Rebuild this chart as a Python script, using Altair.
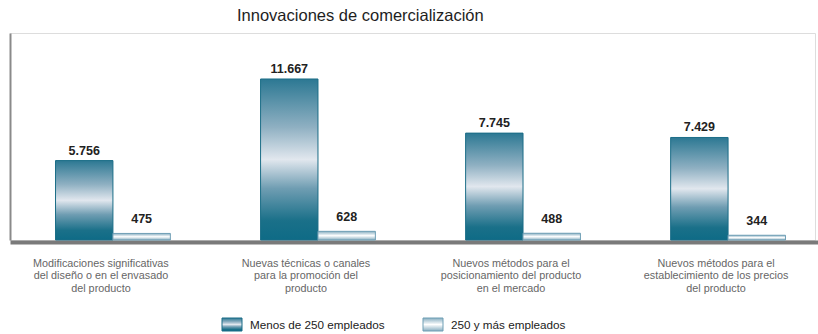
import altair as alt
import pandas as pd

# Categories (use "|" to break axis labels onto several lines)
categorias = [
    "Modificaciones significativas|del diseño o en el envasado|del producto",
    "Nuevas técnicas o canales|para la promoción del|producto",
    "Nuevos métodos para el|posicionamiento del producto|en el mercado",
    "Nuevos métodos para el|establecimiento de los precios|del producto",
]
grupos = ["Menos de 250 empleados", "250 y más empleados"]
menos_250 = [5756, 11667, 7745, 7429]
mas_250 = [475, 628, 488, 344]


def miles(v):
    return f"{v:,}".replace(",", ".")


rows = []
for cat, a, b in zip(categorias, menos_250, mas_250):
    rows.append({"categoria": cat, "grupo": grupos[0], "valor": a, "etiqueta": miles(a)})
    rows.append({"categoria": cat, "grupo": grupos[1], "valor": b, "etiqueta": miles(b)})
df = pd.DataFrame(rows)

FONT = "Liberation Sans"

grad_oscuro = alt.LinearGradient(
    gradient="linear", x1=0, y1=0, x2=0, y2=1,
    stops=[
        alt.GradientStop(color="#2c7893", offset=0),
        alt.GradientStop(color="#8fb0c2", offset=0.3),
        alt.GradientStop(color="#e1e7ee", offset=0.5),
        alt.GradientStop(color="#6f9db2", offset=0.68),
        alt.GradientStop(color="#1a7089", offset=0.88),
        alt.GradientStop(color="#0e6b86", offset=1),
    ],
)
grad_claro = alt.LinearGradient(
    gradient="linear", x1=0, y1=0, x2=0, y2=1,
    stops=[
        alt.GradientStop(color="#86adc0", offset=0),
        alt.GradientStop(color="#ffffff", offset=0.5),
        alt.GradientStop(color="#86adc0", offset=1),
    ],
)

x_enc = alt.X(
    "categoria:N",
    sort=categorias,
    scale=alt.Scale(range=[0, 821], paddingInner=0.44, paddingOuter=0.222),
    axis=alt.Axis(
        title=None, ticks=False, domain=True, domainColor="#7a7a7a", domainWidth=4,
        offset=2, labelAngle=0, labelExpr="split(datum.label, '|')",
        labelOffset=-12, labelPadding=15, labelFont=FONT, labelFontSize=10.8,
        labelColor="#666666", labelLineHeight=12.5, labelLimit=300,
    ),
)
xo_enc = alt.XOffset("grupo:N", sort=grupos, scale=alt.Scale(domain=grupos, paddingInner=0, paddingOuter=0))
y_enc = alt.Y(
    "valor:Q",
    scale=alt.Scale(domain=[0, 15000], nice=False),
    axis=alt.Axis(title=None, labels=False, ticks=False, grid=False, domain=True,
                  domainColor="#8a8a8a", domainWidth=2),
)

base = alt.Chart(df).encode(x=x_enc, xOffset=xo_enc, y=y_enc)

barras_osc = base.transform_filter(alt.datum.grupo == grupos[0]).mark_bar(
    fill=grad_oscuro, stroke="#1b6d87", strokeWidth=1
)
barras_cla = base.transform_filter(alt.datum.grupo == grupos[1]).mark_bar(
    fill=grad_claro, stroke="#6f9fb5", strokeWidth=1
)
txt_osc = base.transform_filter(alt.datum.grupo == grupos[0]).mark_text(
    baseline="alphabetic", dy=-6, font=FONT, fontSize=12.5, fontWeight="bold", color="#222222"
).encode(text="etiqueta:N")
txt_cla = base.transform_filter(alt.datum.grupo == grupos[1]).mark_text(
    baseline="alphabetic", dy=-10, font=FONT, fontSize=12.5, fontWeight="bold", color="#222222"
).encode(text="etiqueta:N")

# Legend drawn with gradient swatches
ley = alt.Chart(pd.DataFrame({"grupo": grupos}))


def item(nombre, relleno, borde, x0):
    d = ley.transform_filter(alt.datum.grupo == nombre)
    caja = d.mark_rect(fill=relleno, stroke=borde, strokeWidth=1).encode(
        x=alt.value(x0), x2=alt.value(x0 + 20), y=alt.value(285), y2=alt.value(298)
    )
    texto = d.mark_text(align="left", baseline="middle", font=FONT, fontSize=11.7,
                        color="#222222").encode(
        x=alt.value(x0 + 28), y=alt.value(292), text="grupo:N"
    )
    return caja + texto


leyenda = item(grupos[0], grad_oscuro, "#1b6d87", 212) + item(grupos[1], grad_claro, "#6f9fb5", 413)

chart = (
    alt.layer(barras_osc, barras_cla, txt_osc, txt_cla, leyenda)
    .properties(
        width=805,
        height=207,
        title=alt.TitleParams(
            "Innovaciones de comercialización", anchor="start", dx=227, offset=9,
            font=FONT, fontSize=16.5, fontWeight="normal", color="#1e1e1e",
        ),
        autosize=alt.AutoSizeParams(type="none"),
        padding={"left": 10, "top": 33, "right": 3, "bottom": 94},
    )
    .configure_view(stroke=None)
    .configure(background="white")
)

chart.save("out.html", embed_options={"renderer": "svg", "actions": False})
